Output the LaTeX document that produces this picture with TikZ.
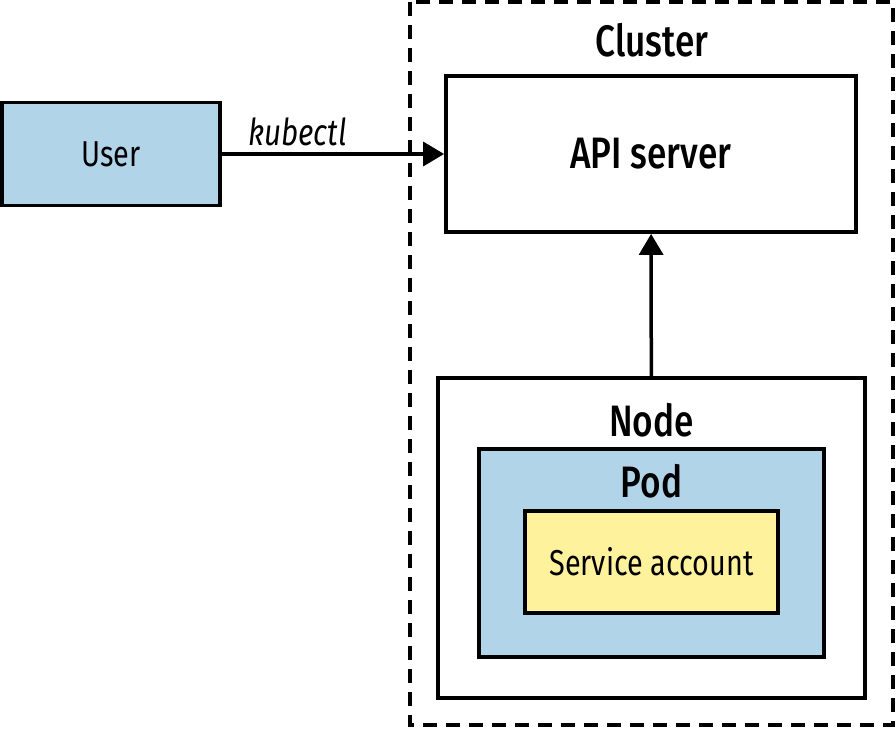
\documentclass[tikz,border=0pt]{standalone}
\usepackage{fontspec}
\setmainfont{Fira Sans}[FakeStretch=0.8, BoldFont={Fira Sans Medium}]
\usepackage{tikz}
\usetikzlibrary{positioning, arrows.meta}
\definecolor{podblue}{HTML}{B1D4E9}
\definecolor{acctyellow}{HTML}{FFF29C}

\begin{document}
\begin{tikzpicture}[x=1pt, y=-1pt,
    box/.style={draw=black, line width=3.8pt, inner sep=0pt},
    txt/.style={font=\fontsize{36}{40}\selectfont},
    head/.style={font=\fontsize{44}{48}\selectfont\bfseries},
    arr/.style={line width=3.5pt, -{Triangle[length=21pt, width=24pt]}}]

\useasboundingbox (0,0) rectangle (896,728);

% Cluster
\draw[line width=3.5pt, dash pattern=on 14pt off 9pt] (410,2) rectangle (893,725);
\node[head] (clusterlbl) at (652,40) {Cluster};

% API server and user
\node[box, fill=white, minimum width=410pt, minimum height=156pt] (api) at (651,154) {};
\node[head] (apilbl) at (api.center) {API server};
\node[box, fill=podblue, minimum width=218pt, minimum height=103pt, txt] (user) at (111,154) {User};

% Node / Pod / Service account
\node[box, fill=white, minimum width=427pt, minimum height=320pt] (node) at (651.5,538) {};
\node[head] (nodelbl) at (651.5,420) {Node};
\node[box, fill=podblue, minimum width=345pt, minimum height=208pt] (pod) at (651.5,553) {};
\node[head] (podlbl) at (651.5,481) {Pod};
\node[box, fill=acctyellow, minimum width=253pt, minimum height=102pt, txt] (sa) at (651.5,562) {Service account};

% Connectors
\draw[arr] (user) -- node[pos=0.34, above=3pt, font=\fontsize{37}{40}\selectfont\itshape] (kubectl) {kubectl} (api);
\draw[arr] (node) -- (api);

\end{tikzpicture}
\end{document}
